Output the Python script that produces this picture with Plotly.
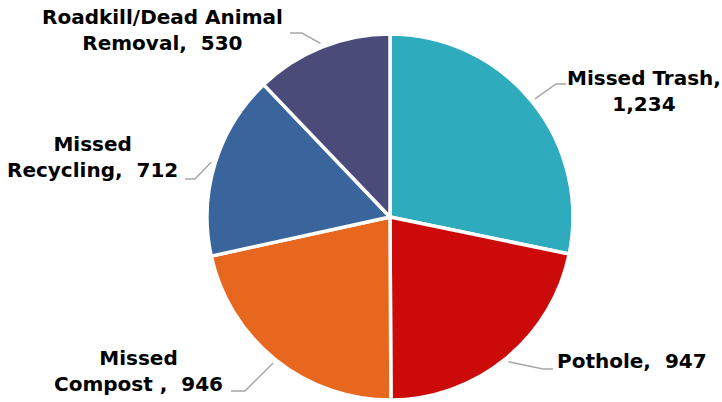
import math
import plotly.graph_objects as go

categories = ["Missed Trash", "Pothole", "Missed Compost ", "Missed Recycling", "Roadkill/Dead Animal Removal"]
values = [1234, 947, 946, 712, 530]
label_lines = [
    "Missed Trash,<br>{v}",
    "Pothole,  {v}",
    "Missed<br>Compost ,  {v}",
    "Missed<br>Recycling,  {v}",
    "Roadkill/Dead Animal<br>Removal,  {v}",
]
colors = ["#2EABBD", "#CC0A0A", "#E8671F", "#3A649C", "#4A4B78"]

W, H = 722, 402
CX, CY, R = 390, 217, 183

# style: leader-line elbow and end points (px), label block centres (px)
elbow_pts = [(556, 84), (543, 369), (245, 391), (195, 179), (302, 33)]
end_x = [566, 553, 231, 185, 290]
label_centres = [(644, 91), (632, 361), (138, 371), (92, 157), (162, 30)]

def px(x, y):
    return x / W, 1 - y / H

fig = go.Figure(go.Pie(
    labels=categories, values=values, sort=False, direction="clockwise",
    marker=dict(colors=colors, line=dict(color="white", width=3.5)),
    textinfo="none", hoverinfo="label+value", showlegend=False,
    domain=dict(x=[(CX - R) / W, (CX + R) / W], y=[1 - (CY + R) / H, 1 - (CY - R) / H]),
))

total = sum(values)
cum = 0
shapes, annots = [], []
for i, v in enumerate(values):
    mid = (cum + v / 2) / total * 2 * math.pi
    cum += v
    ax = CX + (R + 4) * math.sin(mid)
    ay = CY - (R + 4) * math.cos(mid)
    ex, ey = elbow_pts[i]
    p0, p1, p2 = px(ax, ay), px(ex, ey), px(end_x[i], ey)
    shapes.append(dict(type="path", xref="paper", yref="paper",
                       path=f"M {p0[0]} {p0[1]} L {p1[0]} {p1[1]} L {p2[0]} {p2[1]}",
                       line=dict(color="#A6A6A6", width=1.5)))
    lx, ly = px(*label_centres[i])
    annots.append(dict(x=lx, y=ly, xref="paper", yref="paper", showarrow=False,
                       xanchor="center", yanchor="middle", align="center",
                       text="<b>" + label_lines[i].format(v=f"{v:,}") + "</b>",
                       font=dict(family="DejaVu Sans, sans-serif", size=20, color="#000000")))

fig.update_layout(width=W, height=H, margin=dict(l=0, r=0, t=0, b=0),
                  paper_bgcolor="white", plot_bgcolor="white",
                  shapes=shapes, annotations=annots)
fig.write_html("out.html", config={"displayModeBar": False},
               post_script="document.body.style.margin='0';document.body.style.overflow='hidden';")
